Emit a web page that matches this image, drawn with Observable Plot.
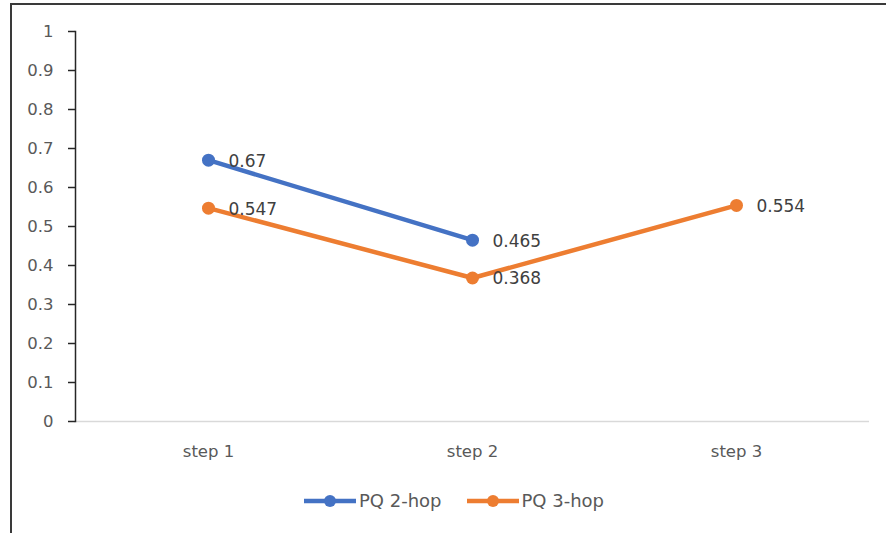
<!DOCTYPE html>
<html>
<head>
<meta charset="utf-8">
<script src="https://cdn.jsdelivr.net/npm/d3@7"></script>
<script src="https://cdn.jsdelivr.net/npm/@observablehq/plot@0.6"></script>
<style>
  html, body { margin: 0; padding: 0; background: #fff; }
  #wrap { position: relative; width: 886px; height: 533px; overflow: hidden; font-family: "DejaVu Sans", sans-serif; }
  #border { position: absolute; left: 10px; top: 3px; width: 900px; height: 560px;
            border-left: 2px solid #3a3a3a; border-top: 2px solid #3a3a3a; box-sizing: border-box; }
  #chart { position: absolute; left: 0; top: 0; }
  #legend { position: absolute; top: 490px; left: 0; width: 886px; display: flex; justify-content: center;
            gap: 25px; font-size: 18px; color: #595959; padding-left: 22px; box-sizing: border-box; }
  .item { display: flex; align-items: center; gap: 3px; }
  .item svg { display: block; }
</style>
</head>
<body>
<div id="wrap">
  <div id="border"></div>
  <div id="chart"></div>
  <div id="legend"></div>
</div>
<script>
// Categories along the x axis
const steps = ["step 1", "step 2", "step 3"];

// Series values
const pq2hop = [0.67, 0.465];
const pq3hop = [0.547, 0.368, 0.554];

const seriesNames = ["PQ 2-hop", "PQ 3-hop"];
const seriesColors = ["#4472C4", "#ED7D31"];

// Y-axis tick values
const yTicks = [0, 0.1, 0.2, 0.3, 0.4, 0.5, 0.6, 0.7, 0.8, 0.9, 1];

// Long-format table for Plot
const rows = [
  ...pq2hop.map((v, i) => ({step: steps[i], value: v, series: seriesNames[0]})),
  ...pq3hop.map((v, i) => ({step: steps[i], value: v, series: seriesNames[1]}))
];

const fmt = d3.format("~g");

const chart = Plot.plot({
  width: 886,
  height: 533,
  marginLeft: 75,
  marginRight: 17,
  marginTop: 31,
  marginBottom: 112,
  style: {fontFamily: "DejaVu Sans, sans-serif", background: "transparent"},
  x: {type: "point", domain: steps, padding: 0.5, axis: null},
  y: {domain: [0, 1], axis: null},
  color: {domain: seriesNames, range: seriesColors},
  marks: [
    Plot.ruleY([0], {stroke: "#d9d9d9", strokeWidth: 1.5}),
    Plot.frame({anchor: "left", stroke: "#262626", strokeWidth: 1.5}),
    // y tick marks (labels drawn separately below)
    Plot.axisY({
      ticks: yTicks, tickSize: 7, tickFormat: () => "",
      stroke: "#262626", strokeWidth: 1.5, label: null
    }),
    Plot.text(yTicks, {
      y: d => d, text: d => fmt(d), frameAnchor: "left", textAnchor: "end",
      dx: -22, fontSize: 16.5, fill: "#595959"
    }),
    // category labels
    Plot.text(steps, {
      x: d => d, text: d => d, frameAnchor: "bottom", dy: 35,
      fontSize: 16.5, fill: "#595959"
    }),
    Plot.line(rows, {x: "step", y: "value", z: "series", stroke: "series", strokeWidth: 4.5, curve: "linear"}),
    Plot.dot(rows, {x: "step", y: "value", fill: "series", r: 6.5, stroke: "none"}),
    Plot.text(rows, {
      x: "step", y: "value", text: d => fmt(d.value),
      textAnchor: "start", dx: 20, dy: 1,
      fontSize: 17, fill: "#404040"
    })
  ]
});
document.getElementById("chart").append(chart);

// Legend
const legend = d3.select("#legend");
seriesNames.forEach((name, i) => {
  const item = legend.append("div").attr("class", "item");
  const sw = item.append("svg").attr("width", 52).attr("height", 14);
  sw.append("line").attr("x1", 0).attr("x2", 52).attr("y1", 7).attr("y2", 7)
    .attr("stroke", seriesColors[i]).attr("stroke-width", 4.5);
  sw.append("circle").attr("cx", 26).attr("cy", 7).attr("r", 6).attr("fill", seriesColors[i]);
  item.append("span").text(name);
});
</script>
</body>
</html>
